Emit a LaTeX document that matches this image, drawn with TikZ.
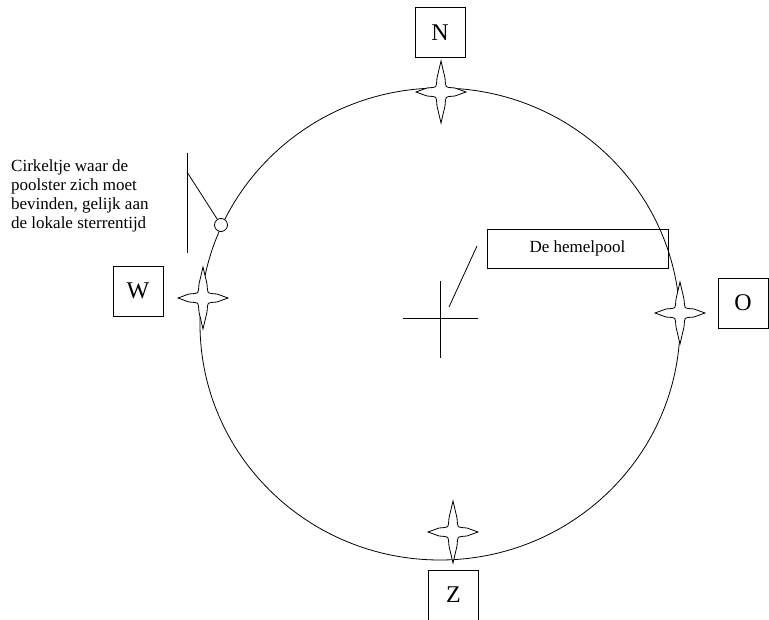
\documentclass[tikz,border=0pt]{standalone}
\usepackage{fontspec}
\setmainfont{Liberation Serif}
\usetikzlibrary{positioning}

\begin{document}
\begin{tikzpicture}[x=1pt,y=-1pt,
    hair/.style={line width=0.8pt},
    windbox/.style={draw,line width=0.9pt,minimum width=50pt,minimum height=50pt,inner sep=0pt,font=\fontsize{24}{24}\selectfont},
    labelbox/.style={draw,line width=0.9pt,minimum width=181pt,minimum height=39pt,inner sep=0pt,font=\fontsize{17}{18}\selectfont},
    note/.style={align=left,inner sep=0pt,font=\fontsize{17}{18.7}\selectfont},
    windstar/.pic={\draw[hair,fill=white] (0,-31) -- (4,-14) -- (4.5,-8) .. controls (4.5,-5.5) and (5.5,-4.5) .. (8,-4.5) -- (14,-4) -- (25,0) -- (14,4) -- (8,4.5) .. controls (5.5,4.5) and (4.5,5.5) .. (4.5,8) -- (4,14) -- (0,31) -- (-4,14) -- (-4.5,8) .. controls (-4.5,5.5) and (-5.5,4.5) .. (-8,4.5) -- (-14,4) -- (-25,0) -- (-14,-4) -- (-8,-4.5) .. controls (-5.5,-4.5) and (-4.5,-5.5) .. (-4.5,-8) -- (-4,-14) -- cycle;}
  ]
    \useasboundingbox (0,0) rectangle (769,620);
    % hemelkoepel
    \draw[hair] (440,324) ellipse[x radius=240,y radius=236];
    % kruis op de hemelpool
    \coordinate (pole) at (440,318);
    \draw[hair] (pole) ++(-37,0) -- ++(75,0);
    \draw[hair] (pole) ++(0,-37) -- ++(0,77);
    \node[labelbox] (pool) at (577.5,248.5) {De hemelpool};
    \coordinate (leadA) at (449,307);
    \coordinate (leadB) at (477,246);
    \draw[hair] (leadA) -- (leadB);
    % windrichtingen
    \foreach \p in {(441,92),(203,298),(680,313),(453,532)}
      \pic at \p {windstar};
    \node[windbox] (N) at (440,32.5) {N};
    \node[windbox] (W) at (138,291) {W};
    \node[windbox] (O) at (743,303) {O};
    \node[windbox] (Z) at (453.5,595) {Z};
    % cirkeltje voor de poolster
    \node[draw,hair,circle,minimum size=13pt,inner sep=0pt,fill=white] (ster) at (221,225) {};
    \coordinate (barTop) at (187,153);
    \coordinate (barBot) at (187,253);
    \coordinate (barKnee) at (187,172);
    \draw[hair] (barTop) -- (barBot);
    \draw[hair] (barKnee) -- (ster);
    \node[note,anchor=north west] (uitleg) at (11,160) {Cirkeltje waar de\\poolster zich moet\\bevinden, gelijk aan\\de lokale sterrentijd};
  \end{tikzpicture}
\end{document}
